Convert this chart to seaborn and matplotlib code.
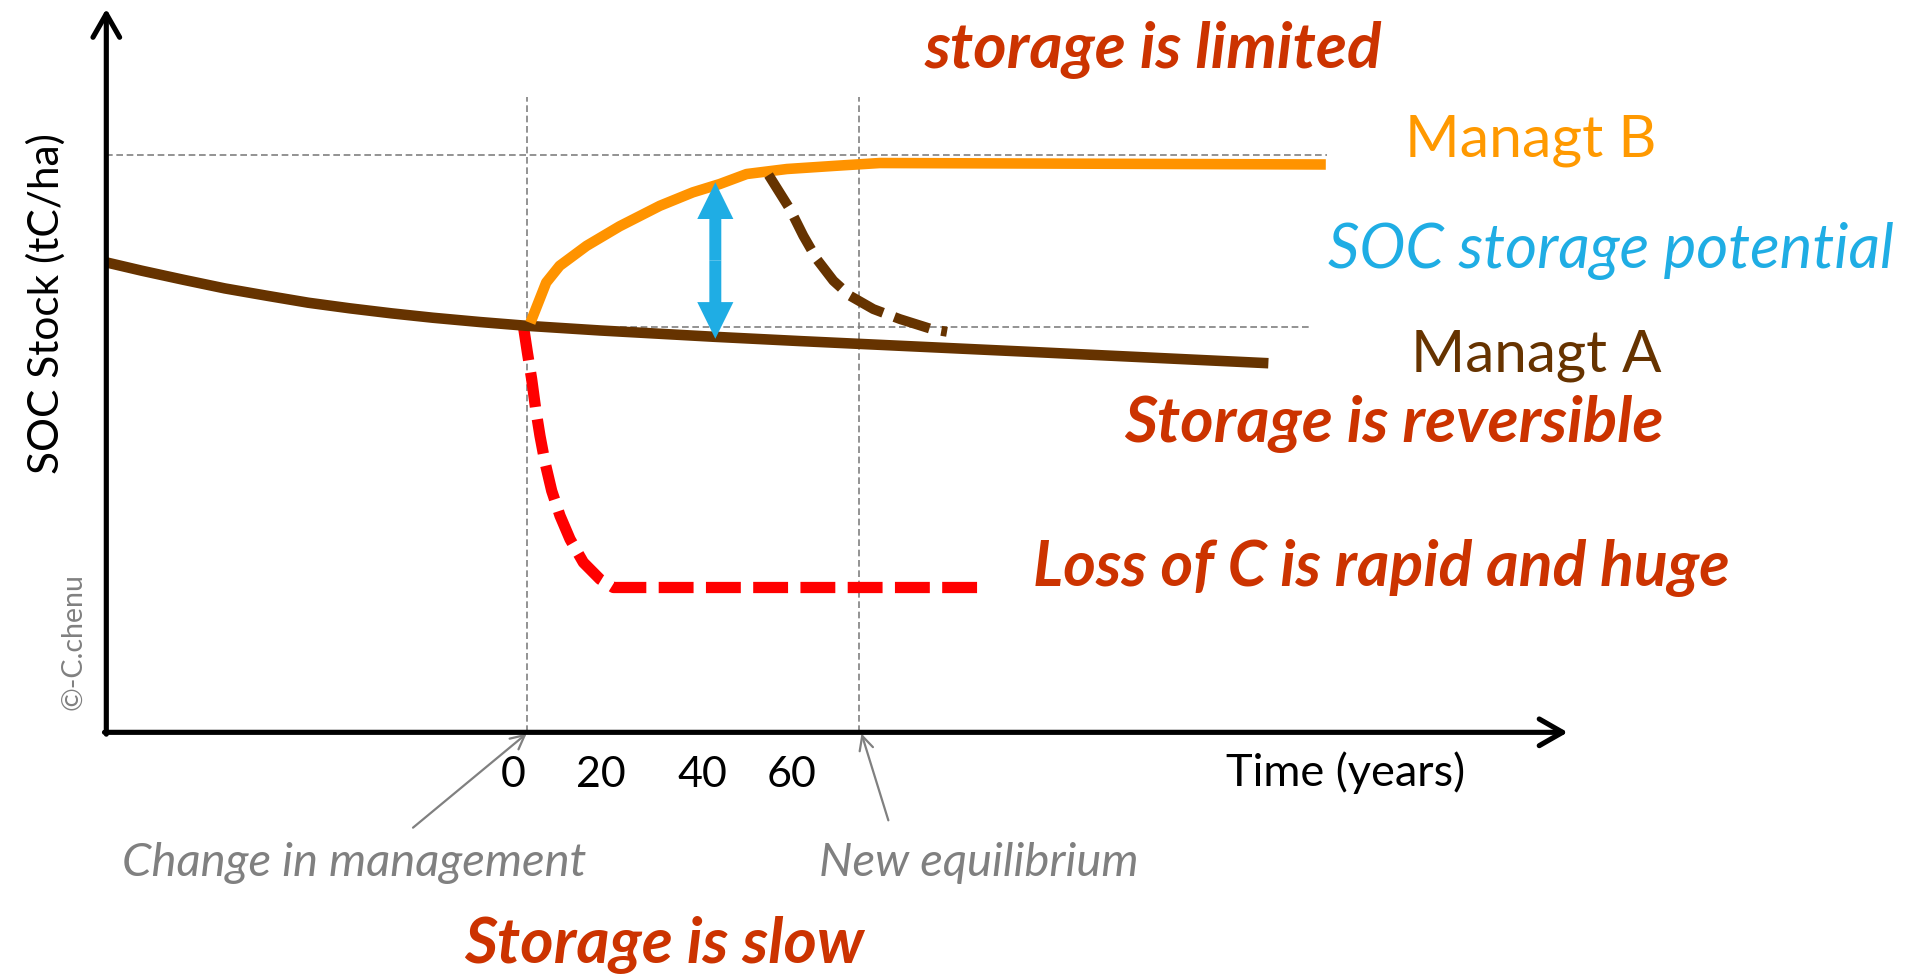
import matplotlib
matplotlib.use('Agg')
from matplotlib import pyplot as plt
import seaborn as sns


# schematic units: x = time (0 at the y axis), y = SOC stock (0 at the x axis)
managt_a_x = [0, 29, 63, 97, 131.5, 165.3, 199.4, 233.5, 267.4, 305.8, 344.3,
	404, 498, 568, 666, 758, 951]
managt_a_y = [384.5, 377.7, 370.3, 363.2, 357.2, 351.5, 346.9, 342.8, 339.2, 335.7, 332.6,
	328.8, 323.6, 320.1, 315.5, 311.2, 302]

managt_b_x = [347, 360, 371, 393, 420, 453, 480, 502, 524, 557, 598, 633, 998]
managt_b_y = [335, 368, 381.7, 398, 414, 430.8, 441.8, 448.6, 456.8, 460.9, 463.6, 465.8, 464.6]

# back to managt A after B (dashed brown)
reverse_x = [542, 559.5, 570.4, 581.4, 595, 608.6, 627.7, 649.5, 675.5, 688]
reverse_y = [456, 428.1, 406.3, 387.2, 369.5, 357.2, 346.3, 338.1, 329.9, 327.7]

# loss of C (dashed red)
loss_x = [341.3, 344.6, 348.1, 351.4, 354.9, 359, 364.5, 371.3, 379.5, 390.4, 404, 415, 722]
loss_y = [332.6, 310.8, 289, 264.5, 242.6, 220.9, 197.6, 177.2, 158, 139, 125.3, 118.5, 118.5]

level_b = 472.5      # grey reference line, equilibrium B
level_a = 331.3      # grey reference line, equilibrium A
t_change = 344       # change in management
t_equil = 616        # new equilibrium
potential_x = 498.4
potential_y = [322, 450]

tick_labels = ['0', '20', '40', '60']
tick_pos = [333, 405, 488, 561]


sns.set_theme(style='white')
plt.rcParams['font.family'] = ['Lato', 'DejaVu Sans']

brown = '#663300'
orange = '#FF9300'
red = '#FF0000'
blue = '#1FADE4'
rust = '#CC3300'
grey = '#808080'

fig = plt.figure(figsize=(19.16, 9.79), dpi=100)
ax = fig.add_axes([0, 0, 1, 1])
ax.set_xlim(-87, 1481)
ax.set_ylim(-201, 600)
ax.axis('off')

# grey reference lines
ref = dict(color=grey, lw=1.2, ls=(0, (4, 2.2)), zorder=1)
ax.plot([0, 999], [level_b, level_b], **ref)
ax.plot([420, 987], [level_a, level_a], **ref)
ax.plot([t_change, t_change], [0, 520], **ref)
ax.plot([t_equil, t_equil], [0, 520], **ref)

# curves
sns.lineplot(x=loss_x, y=loss_y, color=red, lw=8.1, ls=(0, (3.1, 1.1)),
	dash_capstyle='butt', estimator=None, sort=False, ax=ax, zorder=2)
sns.lineplot(x=managt_a_x, y=managt_a_y, color=brown, lw=7.6,
	solid_capstyle='butt', solid_joinstyle='round', estimator=None, sort=False, ax=ax, zorder=3)
sns.lineplot(x=managt_b_x, y=managt_b_y, color=orange, lw=7.6,
	solid_capstyle='butt', solid_joinstyle='round', estimator=None, sort=False, ax=ax, zorder=4)
sns.lineplot(x=reverse_x, y=reverse_y, color=brown, lw=7.2, ls=(0, (3.7, 1.2)),
	dash_capstyle='butt', estimator=None, sort=False, ax=ax, zorder=5)

# SOC storage potential double arrow
mid = (potential_y[0] + potential_y[1]) / 2.0
for end in potential_y:
	ax.annotate('', xy=(potential_x, end), xytext=(potential_x, mid),
		arrowprops=dict(arrowstyle='simple,head_length=1.32,head_width=1.3,tail_width=0.43',
			fc=blue, ec='none', lw=0, mutation_scale=20, shrinkA=0, shrinkB=0), zorder=6)

# axes with arrows
axis_arrow = dict(arrowstyle='->,head_length=0.42,head_width=0.24', color='black',
	lw=3.7, mutation_scale=40, shrinkA=0, shrinkB=0)
ax.annotate('', xy=(0, 592), xytext=(0, -1.5), arrowprops=axis_arrow, zorder=7)
ax.annotate('', xy=(1196, 0), xytext=(-1.5, 0), arrowprops=axis_arrow, zorder=7)

# pointers
pointer = dict(arrowstyle='->,head_length=0.4,head_width=0.2', color=grey,
	lw=1.6, mutation_scale=25, shrinkA=0, shrinkB=0)
ax.annotate('', xy=(t_change, -1), xytext=(251, -78), arrowprops=pointer)
ax.annotate('', xy=(t_equil + 2, -1), xytext=(640, -72), arrowprops=pointer)

# tick labels and axis titles
for lab, pos in zip(tick_labels, tick_pos):
	ax.text(pos, -34, lab, fontsize=31, color='black', ha='center', va='center')
ax.text(916, -32, 'Time (years)', fontsize=32.5, color='black', ha='left', va='center')
ax.text(-49, 352, 'SOC Stock (tC/ha)', fontsize=30.5, color='black', rotation=90,
	ha='center', va='center')
ax.text(-27, 75, '©-C.chenu', fontsize=20.5, color=grey, rotation=90,
	ha='center', va='center')

# annotations
ax.text(857, 559, 'storage is limited', fontsize=46, color=rust,
	fontweight='bold', fontstyle='italic', ha='center', va='center')
ax.text(1063, 485, 'Managt B', fontsize=42.5, color='#FF9900', ha='left', va='center')
ax.text(1000, 395, 'SOC storage potential', fontsize=44.5, color=blue,
	fontstyle='italic', ha='left', va='center')
ax.text(1068, 309, 'Managt A', fontsize=42, color=brown, ha='left', va='center')
ax.text(833, 253, 'Storage is reversible', fontsize=46, color=rust,
	fontweight='bold', fontstyle='italic', ha='left', va='center')
ax.text(758, 135, 'Loss of C is rapid and huge', fontsize=45, color=rust,
	fontweight='bold', fontstyle='italic', ha='left', va='center')
ax.text(13, -106, 'Change in management', fontsize=34, color=grey,
	fontstyle='italic', ha='left', va='center')
ax.text(583, -106, 'New equilibrium', fontsize=34, color=grey,
	fontstyle='italic', ha='left', va='center')
ax.text(293, -173, 'Storage is slow', fontsize=46, color=rust,
	fontweight='bold', fontstyle='italic', ha='left', va='center')

plt.savefig('out.png', dpi=100)
